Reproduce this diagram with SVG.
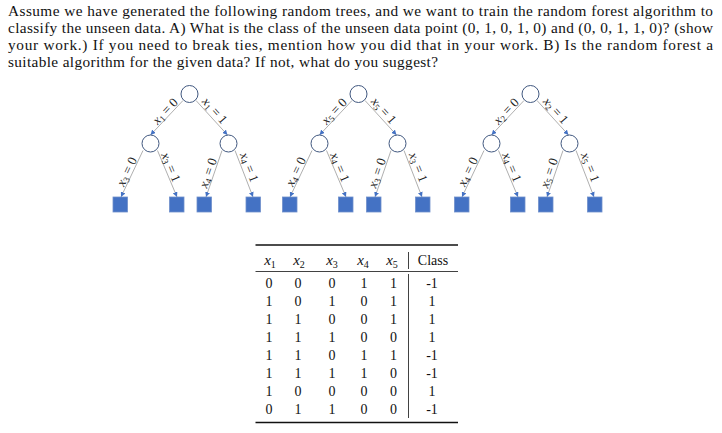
<svg xmlns="http://www.w3.org/2000/svg" width="722" height="433" viewBox="0 0 722 433">
<defs>
<marker id="arr" viewBox="0 0 6 6" refX="6" refY="3" markerWidth="5" markerHeight="5" markerUnits="userSpaceOnUse" orient="auto">
<path d="M0,0 L6,3 L0,6 Z" fill="#4472C4"/>
</marker>
<style>
.p{font-family:"Liberation Serif",serif;font-size:15.3px;fill:#111}
.lbl{font-family:"Liberation Serif",serif;font-size:13px;fill:#222;text-anchor:middle}
.i{font-style:italic}
.sub{font-size:9px}
.e{stroke:#A6A6A6;stroke-width:0.9;fill:none;marker-end:url(#arr)}
.n{fill:#fff;stroke:#41587F;stroke-width:1}
.leaf{fill:#4472C4;stroke:#6F8FCB;stroke-width:0.8}
.t{font-family:"Liberation Serif",serif;font-size:14px;fill:#111;text-anchor:middle}
.h{font-family:"Liberation Serif",serif;font-size:15px;fill:#111;text-anchor:middle}
.rule{stroke:#111}
</style>
</defs>
<rect width="722" height="433" fill="#fff"/>
<g id="question">
<text class="p" x="8" y="16" textLength="705">Assume we have generated the following random trees, and we want to train the random forest algorithm to</text>
<text class="p" x="8" y="33" textLength="705">classify the unseen data. A) What is the class of the unseen data point (0, 1, 0, 1, 0) and (0, 0, 1, 1, 0)? (show</text>
<text class="p" x="8" y="50" textLength="705">your work.) If you need to break ties, mention how you did that in your work. B) Is the random forest a</text>
<text class="p" x="8" y="67" textLength="430">suitable algorithm for the given data? If not, what do you suggest?</text>
</g>

<!-- Tree 1 -->
<g id="tree1-connectors">
<line class="e" x1="183" y1="100.5" x2="150.5" y2="135"/>
<line class="e" x1="196" y1="100.5" x2="227.5" y2="135"/>
<line class="e" x1="143" y1="150.5" x2="121" y2="197"/>
<line class="e" x1="157.5" y1="150.5" x2="177" y2="197"/>
<line class="e" x1="222" y1="150.5" x2="206" y2="197"/>
<line class="e" x1="235" y1="150.5" x2="253" y2="197"/>
<text class="lbl" y="4" transform="translate(165.3,111.3) rotate(-46.7)"><tspan class="i">x</tspan><tspan class="sub" dy="2">1</tspan><tspan dy="-2"> = 0</tspan></text>
<text class="lbl" y="4" transform="translate(214.7,110.7) rotate(48)"><tspan class="i">x</tspan><tspan class="sub" dy="2">1</tspan><tspan dy="-2"> = 1</tspan></text>
<text class="lbl" y="4" transform="translate(127,171.7) rotate(-64.7)"><tspan class="i">x</tspan><tspan class="sub" dy="2">3</tspan><tspan dy="-2"> = 0</tspan></text>
<text class="lbl" y="4" transform="translate(170.7,167.3) rotate(67.2)"><tspan class="i">x</tspan><tspan class="sub" dy="2">3</tspan><tspan dy="-2"> = 1</tspan></text>
<text class="lbl" y="4" transform="translate(208.3,173) rotate(-71)"><tspan class="i">x</tspan><tspan class="sub" dy="2">4</tspan><tspan dy="-2"> = 0</tspan></text>
<text class="lbl" y="4" transform="translate(249,167.3) rotate(68.8)"><tspan class="i">x</tspan><tspan class="sub" dy="2">4</tspan><tspan dy="-2"> = 1</tspan></text>
</g>
<g id="t1-root"><circle class="n" cx="189.5" cy="94" r="8.5"/></g>
<g id="t1-left"><circle class="n" cx="150.5" cy="143.5" r="8.5"/></g>
<g id="t1-right"><circle class="n" cx="228.5" cy="143.5" r="8.5"/></g>
<g id="t1-leaf1"><rect class="leaf" x="113" y="197" width="14.5" height="15"/></g>
<g id="t1-leaf2"><rect class="leaf" x="169.5" y="197" width="14.5" height="15"/></g>
<g id="t1-leaf3"><rect class="leaf" x="197" y="197" width="14.5" height="15"/></g>
<g id="t1-leaf4"><rect class="leaf" x="246" y="197" width="14.5" height="15"/></g>

<!-- Tree 2 (offset +169) -->
<g id="tree2-connectors">
<line class="e" x1="352" y1="100.5" x2="319.5" y2="135"/>
<line class="e" x1="365" y1="100.5" x2="396.5" y2="135"/>
<line class="e" x1="312" y1="150.5" x2="290" y2="197"/>
<line class="e" x1="326.5" y1="150.5" x2="346" y2="197"/>
<line class="e" x1="391" y1="150.5" x2="375" y2="197"/>
<line class="e" x1="404" y1="150.5" x2="422" y2="197"/>
<text class="lbl" y="4" transform="translate(334.3,111.3) rotate(-46.7)"><tspan class="i">x</tspan><tspan class="sub" dy="2">5</tspan><tspan dy="-2"> = 0</tspan></text>
<text class="lbl" y="4" transform="translate(383.7,110.7) rotate(48)"><tspan class="i">x</tspan><tspan class="sub" dy="2">5</tspan><tspan dy="-2"> = 1</tspan></text>
<text class="lbl" y="4" transform="translate(296,171.7) rotate(-64.7)"><tspan class="i">x</tspan><tspan class="sub" dy="2">4</tspan><tspan dy="-2"> = 0</tspan></text>
<text class="lbl" y="4" transform="translate(339.7,167.3) rotate(67.2)"><tspan class="i">x</tspan><tspan class="sub" dy="2">4</tspan><tspan dy="-2"> = 1</tspan></text>
<text class="lbl" y="4" transform="translate(377.3,173) rotate(-71)"><tspan class="i">x</tspan><tspan class="sub" dy="2">3</tspan><tspan dy="-2"> = 0</tspan></text>
<text class="lbl" y="4" transform="translate(418,167.3) rotate(68.8)"><tspan class="i">x</tspan><tspan class="sub" dy="2">3</tspan><tspan dy="-2"> = 1</tspan></text>
</g>
<g id="t2-root"><circle class="n" cx="358.5" cy="94" r="8.5"/></g>
<g id="t2-left"><circle class="n" cx="319.5" cy="143.5" r="8.5"/></g>
<g id="t2-right"><circle class="n" cx="397.5" cy="143.5" r="8.5"/></g>
<g id="t2-leaf1"><rect class="leaf" x="282.5" y="197" width="14.5" height="15"/></g>
<g id="t2-leaf2"><rect class="leaf" x="338.5" y="197" width="14.5" height="15"/></g>
<g id="t2-leaf3"><rect class="leaf" x="366.5" y="197" width="14.5" height="15"/></g>
<g id="t2-leaf4"><rect class="leaf" x="415.5" y="197" width="14.5" height="15"/></g>

<!-- Tree 3 (offset +341) -->
<g id="tree3-connectors">
<line class="e" x1="524" y1="100.5" x2="491.5" y2="135"/>
<line class="e" x1="537" y1="100.5" x2="568.5" y2="135"/>
<line class="e" x1="484" y1="150.5" x2="462" y2="197"/>
<line class="e" x1="498.5" y1="150.5" x2="518" y2="197"/>
<line class="e" x1="563" y1="150.5" x2="547" y2="197"/>
<line class="e" x1="576" y1="150.5" x2="594" y2="197"/>
<text class="lbl" y="4" transform="translate(506.3,111.3) rotate(-46.7)"><tspan class="i">x</tspan><tspan class="sub" dy="2">2</tspan><tspan dy="-2"> = 0</tspan></text>
<text class="lbl" y="4" transform="translate(555.7,110.7) rotate(48)"><tspan class="i">x</tspan><tspan class="sub" dy="2">2</tspan><tspan dy="-2"> = 1</tspan></text>
<text class="lbl" y="4" transform="translate(468,171.7) rotate(-64.7)"><tspan class="i">x</tspan><tspan class="sub" dy="2">4</tspan><tspan dy="-2"> = 0</tspan></text>
<text class="lbl" y="4" transform="translate(511.7,167.3) rotate(67.2)"><tspan class="i">x</tspan><tspan class="sub" dy="2">4</tspan><tspan dy="-2"> = 1</tspan></text>
<text class="lbl" y="4" transform="translate(549.3,173) rotate(-71)"><tspan class="i">x</tspan><tspan class="sub" dy="2">5</tspan><tspan dy="-2"> = 0</tspan></text>
<text class="lbl" y="4" transform="translate(590,167.3) rotate(68.8)"><tspan class="i">x</tspan><tspan class="sub" dy="2">5</tspan><tspan dy="-2"> = 1</tspan></text>
</g>
<g id="t3-root"><circle class="n" cx="530.5" cy="94" r="8.5"/></g>
<g id="t3-left"><circle class="n" cx="491.5" cy="143.5" r="8.5"/></g>
<g id="t3-right"><circle class="n" cx="569.5" cy="143.5" r="8.5"/></g>
<g id="t3-leaf1"><rect class="leaf" x="454.5" y="197" width="14.5" height="15"/></g>
<g id="t3-leaf2"><rect class="leaf" x="510.5" y="197" width="14.5" height="15"/></g>
<g id="t3-leaf3"><rect class="leaf" x="538.5" y="197" width="14.5" height="15"/></g>
<g id="t3-leaf4"><rect class="leaf" x="587.5" y="197" width="14.5" height="15"/></g>

<!-- Table -->
<g id="table">
<line class="rule" x1="255.5" y1="245" x2="458" y2="245" stroke-width="1.3"/>
<line class="rule" x1="255.5" y1="271.5" x2="458" y2="271.5" stroke-width="0.8"/>
<line class="rule" x1="255.5" y1="422.5" x2="458" y2="422.5" stroke-width="1.3"/>
<line class="rule" x1="408.5" y1="252" x2="408.5" y2="269" stroke-width="0.8"/>
<line class="rule" x1="408.5" y1="274" x2="408.5" y2="418" stroke-width="0.8"/>
<text class="h" x="270" y="265"><tspan class="i">x</tspan><tspan font-size="10" dy="2.5">1</tspan></text>
<text class="h" x="299" y="265"><tspan class="i">x</tspan><tspan font-size="10" dy="2.5">2</tspan></text>
<text class="h" x="332" y="265"><tspan class="i">x</tspan><tspan font-size="10" dy="2.5">3</tspan></text>
<text class="h" x="363" y="265"><tspan class="i">x</tspan><tspan font-size="10" dy="2.5">4</tspan></text>
<text class="h" x="392" y="265"><tspan class="i">x</tspan><tspan font-size="10" dy="2.5">5</tspan></text>
<text class="t" x="433" y="265">Class</text>
<g class="t">
<text class="t" x="269" y="288">0</text><text class="t" x="298" y="288">0</text><text class="t" x="332" y="288">0</text><text class="t" x="364" y="288">1</text><text class="t" x="393.5" y="288">1</text><text class="t" x="432" y="288">-1</text>
<text class="t" x="269" y="306">1</text><text class="t" x="298" y="306">0</text><text class="t" x="332" y="306">1</text><text class="t" x="364" y="306">0</text><text class="t" x="393.5" y="306">1</text><text class="t" x="432" y="306">1</text>
<text class="t" x="269" y="324">1</text><text class="t" x="298" y="324">1</text><text class="t" x="332" y="324">0</text><text class="t" x="364" y="324">0</text><text class="t" x="393.5" y="324">1</text><text class="t" x="432" y="324">1</text>
<text class="t" x="269" y="342">1</text><text class="t" x="298" y="342">1</text><text class="t" x="332" y="342">1</text><text class="t" x="364" y="342">0</text><text class="t" x="393.5" y="342">0</text><text class="t" x="432" y="342">1</text>
<text class="t" x="269" y="360">1</text><text class="t" x="298" y="360">1</text><text class="t" x="332" y="360">0</text><text class="t" x="364" y="360">1</text><text class="t" x="393.5" y="360">1</text><text class="t" x="432" y="360">-1</text>
<text class="t" x="269" y="378">1</text><text class="t" x="298" y="378">1</text><text class="t" x="332" y="378">1</text><text class="t" x="364" y="378">1</text><text class="t" x="393.5" y="378">0</text><text class="t" x="432" y="378">-1</text>
<text class="t" x="269" y="396">1</text><text class="t" x="298" y="396">0</text><text class="t" x="332" y="396">0</text><text class="t" x="364" y="396">0</text><text class="t" x="393.5" y="396">0</text><text class="t" x="432" y="396">1</text>
<text class="t" x="269" y="414">0</text><text class="t" x="298" y="414">1</text><text class="t" x="332" y="414">1</text><text class="t" x="364" y="414">0</text><text class="t" x="393.5" y="414">0</text><text class="t" x="432" y="414">-1</text>
</g>
</g>
</svg>
